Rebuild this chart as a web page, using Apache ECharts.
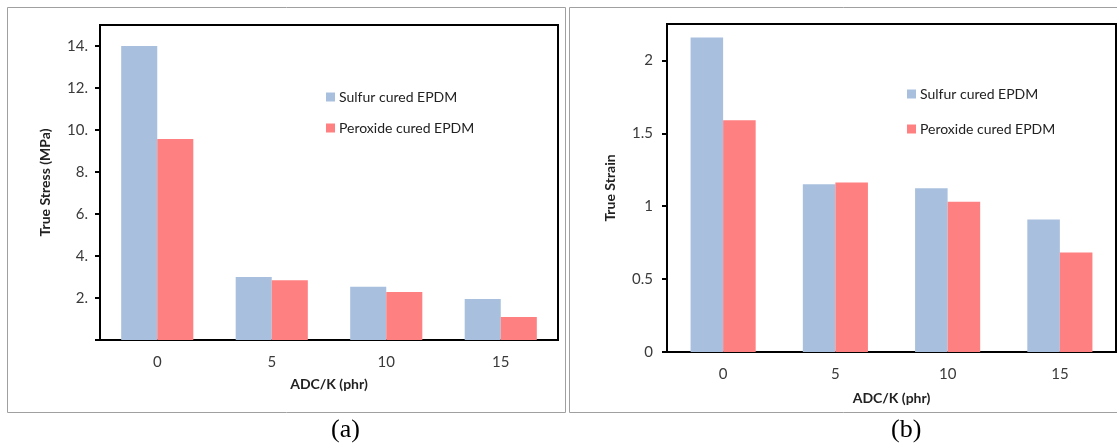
<!DOCTYPE html>
<html>
<head>
<meta charset="utf-8">
<script src="https://cdn.jsdelivr.net/npm/echarts@6/dist/echarts.min.js"></script>
<style>
  html, body { margin: 0; padding: 0; background: #fff; }
  #statCharts { width: 1117px; height: 448px; }
</style>
</head>
<body>
<div id="statCharts"></div>
<script>
// data define
var adcLevels = ['0', '5', '10', '15']
var seriesNames = ['Sulfur cured EPDM', 'Peroxide cured EPDM']
var stressSulfur = [14.0, 3.0, 2.53, 1.95]
var stressPeroxide = [9.57, 2.84, 2.28, 1.1]
var strainSulfur = [2.157, 1.151, 1.124, 0.909]
var strainPeroxide = [1.589, 1.163, 1.03, 0.682]
var stressTicks = [0, 2, 4, 6, 8, 10, 12, 14]
var strainTicks = [0, 0.5, 1, 1.5, 2]

var blue = '#a8c0de'
var red = '#ff8080'
var font = 'Lato'

// charts instantiate
var statCharts = echarts.init(document.getElementById('statCharts'), null, { renderer: 'canvas' })

var xAxisFor = function (gridIndex, gap) {
  return {
    gridIndex: gridIndex,
    type: 'category',
    data: adcLevels,
    name: 'ADC/K (phr)',
    nameLocation: 'middle',
    nameGap: gap,
    nameTextStyle: { fontFamily: font, fontSize: 14, fontWeight: 'bold', color: '#222' },
    axisLine: { lineStyle: { color: '#000', width: 2 } },
    axisTick: { length: 5, lineStyle: { color: '#000', width: 2 } },
    axisLabel: { margin: 15, fontFamily: font, fontSize: 15, color: '#3a3a3a' },
    splitLine: { show: false }
  }
}

var legendFor = function (left, top, gap) {
  return {
    data: seriesNames,
    orient: 'vertical',
    left: left,
    top: top,
    itemWidth: 9,
    itemHeight: 9,
    itemGap: gap,
    icon: 'rect',
    textStyle: { fontFamily: font, fontSize: 14, color: '#222', padding: [0, 0, 0, -1] }
  }
}

var option = {
  animation: false,
  backgroundColor: '#fff',
  textStyle: { fontFamily: font },
  grid: [
    { left: 100, top: 25, width: 458, height: 315, show: true, borderColor: '#000', borderWidth: 2 },
    { left: 667, top: 24, width: 449, height: 328, show: true, borderColor: '#000', borderWidth: 2 }
  ],
  legend: [legendFor(321, 85, 17), legendFor(902, 82, 21)],
  xAxis: [xAxisFor(0, 37), xAxisFor(1, 39)],
  yAxis: [
    {
      gridIndex: 0,
      type: 'value',
      min: 0,
      max: 15,
      name: 'True Stress (MPa)',
      nameLocation: 'middle',
      nameGap: 48,
      nameTextStyle: { fontFamily: font, fontSize: 14, fontWeight: 'bold', color: '#222' },
      axisLine: { show: true, lineStyle: { color: '#000', width: 2 } },
      axisTick: { show: true, length: 5, customValues: stressTicks, lineStyle: { color: '#000', width: 2 } },
      axisLabel: {
        customValues: stressTicks,
        margin: 12,
        fontFamily: font,
        fontSize: 15,
        color: '#3a3a3a',
        formatter: function (value) {
          return value === 0 ? '' : value + '.'
        }
      },
      splitLine: { show: false }
    },
    {
      gridIndex: 1,
      type: 'value',
      min: 0,
      max: 2.25,
      name: 'True Strain',
      nameLocation: 'middle',
      nameGap: 50,
      nameTextStyle: { fontFamily: font, fontSize: 14, fontWeight: 'bold', color: '#222' },
      axisLine: { show: true, lineStyle: { color: '#000', width: 2 } },
      axisTick: { show: true, length: 5, customValues: strainTicks, lineStyle: { color: '#000', width: 2 } },
      axisLabel: { customValues: strainTicks, margin: 14, fontFamily: font, fontSize: 15, color: '#3a3a3a' },
      splitLine: { show: false }
    }
  ],
  series: [
    { name: seriesNames[0], type: 'bar', xAxisIndex: 0, yAxisIndex: 0, barGap: '0%', barCategoryGap: '37%', itemStyle: { color: blue }, data: stressSulfur },
    { name: seriesNames[1], type: 'bar', xAxisIndex: 0, yAxisIndex: 0, barGap: '0%', barCategoryGap: '37%', itemStyle: { color: red }, data: stressPeroxide },
    { name: seriesNames[0], type: 'bar', xAxisIndex: 1, yAxisIndex: 1, barGap: '0%', barCategoryGap: '42%', itemStyle: { color: blue }, data: strainSulfur },
    { name: seriesNames[1], type: 'bar', xAxisIndex: 1, yAxisIndex: 1, barGap: '0%', barCategoryGap: '42%', itemStyle: { color: red }, data: strainPeroxide }
  ],
  graphic: [
    // panel frames
    { type: 'rect', shape: { x: 7.5, y: 7.5, width: 558, height: 405 }, style: { fill: null, stroke: '#a0a0a0', lineWidth: 1 }, silent: true },
    { type: 'rect', shape: { x: 569.5, y: 7.5, width: 560, height: 405 }, style: { fill: null, stroke: '#a0a0a0', lineWidth: 1 }, silent: true },
    // captions
    { type: 'text', left: 331, top: 417, style: { text: '(a)', font: '26px "Liberation Serif"', fill: '#000' } },
    { type: 'text', left: 891, top: 417, style: { text: '(b)', font: '26px "Liberation Serif"', fill: '#000' } }
  ]
}

statCharts.setOption(option, true)
</script>
</body>
</html>
